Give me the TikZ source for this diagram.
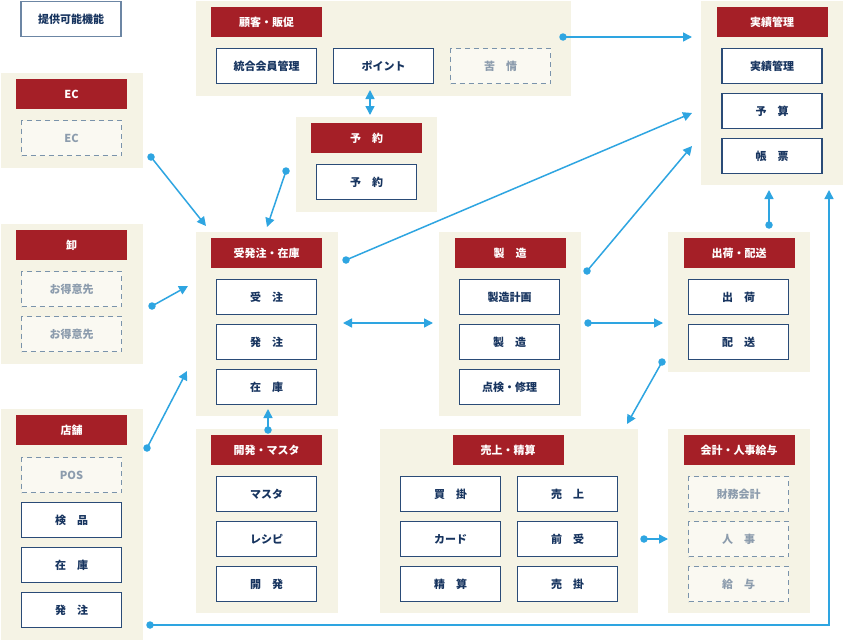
\documentclass[tikz,border=0pt]{standalone}
\usepackage{fontspec}
\setmainfont{Noto Sans CJK JP}
\usetikzlibrary{arrows.meta}
\definecolor{beige}{HTML}{F5F3E5}
\definecolor{hred}{HTML}{A51F27}
\definecolor{navy}{HTML}{2A4B77}
\definecolor{navytext}{HTML}{17345F}
\definecolor{dline}{HTML}{7A93AB}
\definecolor{dfill}{HTML}{FAF9F2}
\definecolor{dtext}{HTML}{8C9CAD}
\definecolor{cblue}{HTML}{2EA5E1}
\definecolor{kline}{HTML}{6C86A4}
\begin{document}
\begin{tikzpicture}[x=1pt,y=-1pt,
  every node/.style={inner sep=0pt, outer sep=0pt},
  panel/.style={fill=beige},
  hdr/.style={fill=hred, text=white, minimum width=111pt, minimum height=30pt, font=\fontsize{11}{13}\selectfont\bfseries},
  item/.style={draw=navy, line width=1.2pt, fill=white, text=navytext, minimum width=100pt, minimum height=35pt, font=\fontsize{11}{13}\selectfont\bfseries},
  ditem/.style={draw=dline, line width=1pt, dash pattern=on 5pt off 4pt, fill=dfill, text=dtext, minimum width=100pt, minimum height=35pt, font=\fontsize{11}{13}\selectfont\bfseries},
  conn/.style={draw=cblue, line width=1.5pt, -{Triangle[length=9pt,width=9pt]}},
  dconn/.style={draw=cblue, line width=1.5pt, {Triangle[length=9pt,width=9pt]}-{Triangle[length=9pt,width=9pt]}},
  dot/.style={circle, fill=cblue, minimum size=7.5pt}
]
\useasboundingbox (0,0) rectangle (843,640);
\fill[white] (0,0) rectangle (843,640);

% legend
\node[draw=kline, line width=1.5pt, fill=white, text=navytext, minimum width=100pt, minimum height=35pt, font=\fontsize{11}{13}\selectfont\bfseries] (legend) at (71,19) {提供可能機能};

% panels
\node[panel, minimum width=142pt, minimum height=95pt] (pEC) at (72,120.5) {};
\node[panel, minimum width=375pt, minimum height=95pt] (pCust) at (383.5,48.5) {};
\node[panel, minimum width=141pt, minimum height=95pt] (pRes) at (366.5,164.5) {};
\node[panel, minimum width=142pt, minimum height=184pt] (pPerf) at (772,93) {};
\node[panel, minimum width=142pt, minimum height=184pt] (pOrd) at (267,324) {};
\node[panel, minimum width=142pt, minimum height=184pt] (pMfg) at (510,324) {};
\node[panel, minimum width=142pt, minimum height=140pt] (pShip) at (739,302) {};
\node[panel, minimum width=142pt, minimum height=140pt] (pWh) at (72,294) {};
\node[panel, minimum width=142pt, minimum height=231pt] (pShop) at (72,524.5) {};
\node[panel, minimum width=142pt, minimum height=184pt] (pDev) at (267,521) {};
\node[panel, minimum width=258pt, minimum height=184pt] (pSales) at (509,521) {};
\node[panel, minimum width=142pt, minimum height=184pt] (pAcc) at (739,521) {};

% headers
\node[hdr] (hEC) at (71.5,94) {EC};
\node[hdr] (hCust) at (266.5,22) {顧客・販促};
\node[hdr] (hRes) at (366.5,138) {予　約};
\node[hdr] (hPerf) at (772,22) {実績管理};
\node[hdr] (hOrd) at (266.5,253) {受発注・在庫};
\node[hdr] (hMfg) at (510,253) {製　造};
\node[hdr] (hShip) at (739,253) {出荷・配送};
\node[hdr] (hWh) at (71.5,245) {卸};
\node[hdr] (hShop) at (71.5,430) {店舗};
\node[hdr] (hDev) at (266.5,450) {開発・マスタ};
\node[hdr] (hSales) at (508,450) {売上・精算};
\node[hdr] (hAcc) at (739,450) {会計・人事給与};

% items
\node[ditem] (iEC) at (71.5,138) {EC};
\node[item] (iMem) at (266.5,66) {統合会員管理};
\node[item] (iPt) at (383.5,66) {ポイント};
\node[ditem] (iCmp) at (500.5,66) {苦　情};
\node[item] (iRes) at (366.5,182) {予　約};
\node[item] (iPerf) at (772,66) {実績管理};
\node[item] (iBud) at (772,111) {予　算};
\node[item] (iLed) at (772,156) {帳　票};
\node[item] (iRcv) at (266.5,297) {受　注};
\node[item] (iOrd) at (266.5,342) {発　注};
\node[item] (iStk) at (266.5,387) {在　庫};
\node[item] (iPlan) at (509.5,297) {製造計画};
\node[item] (iMfg) at (509.5,342) {製　造};
\node[item] (iRep) at (509.5,387) {点検・修理};
\node[item] (iShp) at (738.5,297) {出　荷};
\node[item] (iDlv) at (738.5,342) {配　送};
\node[ditem] (iWh1) at (71.5,289) {お得意先};
\node[ditem] (iWh2) at (71.5,334) {お得意先};
\node[ditem] (iPOS) at (71.5,475) {POS};
\node[item] (iIns) at (71.5,520) {検　品};
\node[item] (iSStk) at (71.5,565) {在　庫};
\node[item] (iSOrd) at (71.5,610) {発　注};
\node[item] (iMst) at (266.5,494) {マスタ};
\node[item] (iRcp) at (266.5,539) {レシピ};
\node[item] (iDev) at (266.5,584) {開　発};
\node[item] (iPay) at (450.5,494) {買　掛};
\node[item] (iCard) at (450.5,539) {カード};
\node[item] (iSet) at (450.5,584) {精　算};
\node[item] (iSale) at (567.5,494) {売　上};
\node[item] (iAdv) at (567.5,539) {前　受};
\node[item] (iRecv) at (567.5,584) {売　掛};
\node[ditem] (iFin) at (738.5,494) {財務会計};
\node[ditem] (iHR) at (738.5,539) {人　事};
\node[ditem] (iSal) at (738.5,584) {給　与};

% connector ends
\coordinate (t1) at (692,37);
\coordinate (t3) at (206,226);
\coordinate (t4) at (267,227);
\coordinate (t5) at (692,113);
\coordinate (t6) at (692,146);
\coordinate (t7) at (769,190);
\coordinate (t9) at (663,323);
\coordinate (t10) at (627,424);
\coordinate (t11) at (188,286);
\coordinate (t12) at (187,371);
\coordinate (t13) at (268,409);
\coordinate (t14) at (668,539);
\coordinate (t15) at (829,190);
\coordinate (k15) at (829,625);
\coordinate (a2) at (370,90);
\coordinate (b2) at (370,115);
\coordinate (a8) at (343,323);
\coordinate (b8) at (433,323);

% dots
\node[dot] (d1) at (563,37) {};
\node[dot] (d3) at (151,157) {};
\node[dot] (d4) at (286,171) {};
\node[dot] (d5) at (346,260) {};
\node[dot] (d6) at (587,271) {};
\node[dot] (d7) at (769,225) {};
\node[dot] (d9) at (588,323) {};
\node[dot] (d10) at (662,362) {};
\node[dot] (d11) at (152,306) {};
\node[dot] (d12) at (147,448) {};
\node[dot] (d13) at (268,430) {};
\node[dot] (d14) at (644,539) {};
\node[dot] (d15) at (150,625) {};

% connectors
\draw[conn] (d1.center) -- (t1);
\draw[dconn] (a2) -- (b2);
\draw[conn] (d3.center) -- (t3);
\draw[conn] (d4.center) -- (t4);
\draw[conn] (d5.center) -- (t5);
\draw[conn] (d6.center) -- (t6);
\draw[conn] (d7.center) -- (t7);
\draw[dconn] (a8) -- (b8);
\draw[conn] (d9.center) -- (t9);
\draw[conn] (d10.center) -- (t10);
\draw[conn] (d11.center) -- (t11);
\draw[conn] (d12.center) -- (t12);
\draw[conn] (d13.center) -- (t13);
\draw[conn] (d14.center) -- (t14);
\draw[conn] (d15.center) -- (k15) -- (t15);
\end{tikzpicture}
\end{document}
